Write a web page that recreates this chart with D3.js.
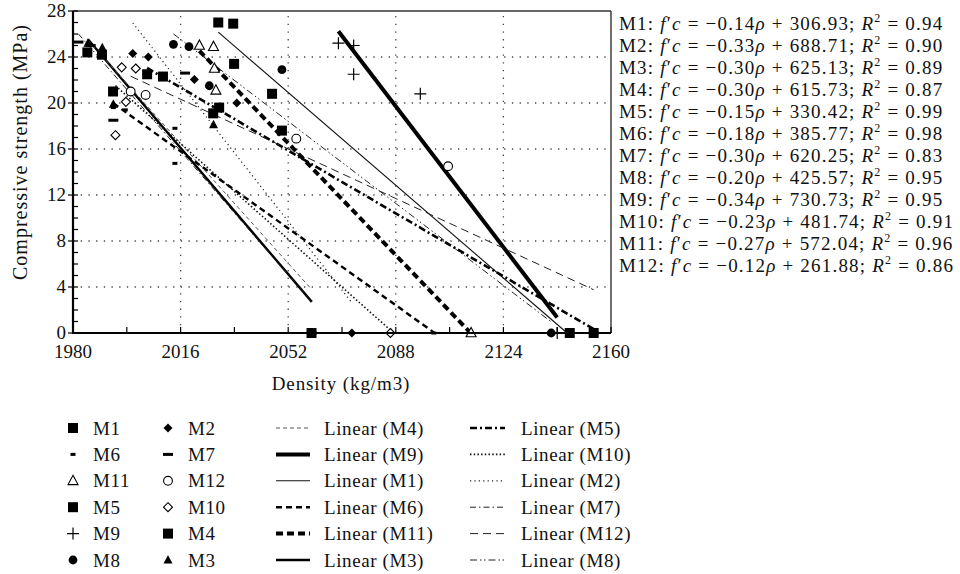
<!DOCTYPE html>
<html>
<head>
<meta charset="utf-8">
<script src="https://cdn.jsdelivr.net/npm/d3@7"></script>
<style>
  body { margin: 0; background: #fff; }
  text { font-family: "Liberation Serif", "DejaVu Serif", "Noto Serif", serif; fill: #111; }
</style>
</head>
<body>
<svg id="chart" width="960" height="574"></svg>
<script>
// ---- data: density (kg/m3), compressive strength (MPa) for each mix ----
const mixes = ["M1", "M2", "M3", "M4", "M5", "M6", "M7", "M8", "M9", "M10", "M11", "M12"];
const M1  = [[2028.6, 27.0], [2033.6, 26.9], [2033.9, 23.4], [2046.6, 20.8], [2146.2, 0]];
const M2  = [[2000.0, 24.3], [2005.2, 24.0], [2020.6, 22.05], [2034.8, 20.0], [2073.3, 0]];
const M3  = [[1985.0, 25.2], [1989.8, 24.8], [1993.5, 19.9], [2027.0, 18.1], [2059.9, 0]];
const M4  = [[1984.8, 24.4], [1989.7, 24.2], [1993.4, 21.0], [2028.9, 19.6], [2059.8, 0]];
const M5  = [[2004.8, 22.5], [2010.1, 22.3], [2026.9, 19.1], [2049.9, 17.6], [2154.2, 0]];
const M6  = [[1993.5, 19.6], [1997.5, 19.4], [2014.1, 17.8], [2014.1, 14.75], [2100.7, 0]];
const M7  = [[1981.8, 25.3], [1985.9, 25.0], [1993.5, 18.5], [2017.5, 22.6], [2059.9, 0]];
const M8  = [[2013.6, 25.1], [2018.8, 24.9], [2025.6, 21.5], [2049.9, 22.9], [2140.0, 0]];
const M9  = [[2068.8, 25.2], [2073.9, 25.0], [2073.9, 22.5], [2096.2, 20.8], [2142.0, 0]];
const M10 = [[1994.2, 17.2], [1996.3, 23.1], [1997.7, 20.1], [2001.0, 23.0], [2086.2, 0]];
const M11 = [[2022.3, 25.0], [2027.0, 24.9], [2027.3, 23.0], [2027.8, 21.1], [2113.2, 0]];
const M12 = [[1999.3, 21.0], [2004.3, 20.7], [2054.7, 16.9], [2105.5, 14.5], [2154.2, 0]];

// regression equations printed beside the plot
const eqSlope     = [-0.14, -0.33, -0.30, -0.30, -0.15, -0.18, -0.30, -0.20, -0.34, -0.23, -0.27, -0.12];
const eqIntercept = [306.93, 688.71, 625.13, 615.73, 330.42, 385.77, 620.25, 425.57, 730.73, 481.74, 572.04, 261.88];
const eqR2        = [0.94, 0.90, 0.89, 0.87, 0.99, 0.98, 0.83, 0.95, 0.95, 0.91, 0.96, 0.86];

const densityTicks  = [1980, 2016, 2052, 2088, 2124, 2160];
const strengthTicks = [0, 4, 8, 12, 16, 20, 24, 28];

// legend layout (columns of the key under the plot)
const markerCol1 = ["M1", "M6", "M11", "M5", "M9", "M8"];
const markerCol2 = ["M2", "M7", "M12", "M10", "M4", "M3"];
const lineCol1   = ["M4", "M9", "M1", "M6", "M11", "M3"];
const lineCol2   = ["M5", "M10", "M2", "M7", "M12", "M8"];

// ---- styling ----
const seriesPoints = {M1, M2, M3, M4, M5, M6, M7, M8, M9, M10, M11, M12};
const markerType = {
  M1: "square", M2: "diamondFill", M3: "triFill", M4: "square", M5: "square", M6: "dashShort",
  M7: "dashLong", M8: "circleFill", M9: "plus", M10: "diamondOpen", M11: "triOpen", M12: "circleOpen"
};
const lineStyle = {
  M1:  {w: 1.1, dash: null, color: "#111"},
  M2:  {w: 1.2, dash: "1.2,3.2", color: "#222"},
  M3:  {w: 2.4, dash: null, color: "#000"},
  M4:  {w: 1.0, dash: "4,3", color: "#555"},
  M5:  {w: 2.6, dash: "7,3,2,3", color: "#000"},
  M6:  {w: 2.4, dash: "6,4", color: "#000"},
  M7:  {w: 1.0, dash: "6,3,1.5,3", color: "#222"},
  M8:  {w: 1.0, dash: "7,3,1.5,2.5,1.5,3", color: "#222"},
  M9:  {w: 4.0, dash: null, color: "#000"},
  M10: {w: 1.6, dash: "1.5,2.2", color: "#111"},
  M11: {w: 4.0, dash: "7,4", color: "#000"},
  M12: {w: 1.0, dash: "8,5", color: "#222"}
};

const svg = d3.select("#chart");
svg.append("rect").attr("width", 960).attr("height", 574).attr("fill", "#fff");

const x = d3.scaleLinear().domain([1980, 2160]).range([73, 611]);
const y = d3.scaleLinear().domain([0, 28]).range([333, 11]);

// ---- grid ----
const grid = svg.append("g");
grid.selectAll("line.gy").data(strengthTicks.filter(v => v > 0 && v < 28)).join("line")
  .attr("x1", x(1980)).attr("x2", x(2160)).attr("y1", d => y(d)).attr("y2", d => y(d))
  .attr("stroke", "#444").attr("stroke-width", 1.3).attr("stroke-dasharray", "1.3,6.4");
grid.selectAll("line.gx").data(densityTicks.filter(v => v > 1980 && v < 2160)).join("line")
  .attr("y1", y(0)).attr("y2", y(28)).attr("x1", d => x(d)).attr("x2", d => x(d))
  .attr("stroke", "#444").attr("stroke-width", 1.3).attr("stroke-dasharray", "1.3,6.4");

// frame (top and right)
svg.append("line").attr("x1", x(1980)).attr("x2", x(2160)).attr("y1", y(28)).attr("y2", y(28))
  .attr("stroke", "#333").attr("stroke-width", 1.4);
svg.append("line").attr("x1", x(2160)).attr("x2", x(2160)).attr("y1", y(28)).attr("y2", y(0))
  .attr("stroke", "#333").attr("stroke-width", 1.4);

// ---- trend lines: least-squares fit of each mix over its density range ----
function fit(pts) {
  const mx = d3.mean(pts, p => p[0]), my = d3.mean(pts, p => p[1]);
  const sxy = d3.sum(pts, p => (p[0] - mx) * (p[1] - my));
  const sxx = d3.sum(pts, p => (p[0] - mx) ** 2);
  const b = sxy / sxx;
  const [x0, x1] = d3.extent(pts, p => p[0]);
  return [[x0, my + b * (x0 - mx)], [x1, my + b * (x1 - mx)]];
}
const line = d3.line().x(d => x(d[0])).y(d => y(d[1]));
const trends = svg.append("g").attr("fill", "none");
mixes.forEach(m => {
  const s = lineStyle[m];
  trends.append("path").attr("d", line(fit(seriesPoints[m])))
    .attr("stroke", s.color).attr("stroke-width", s.w)
    .attr("stroke-dasharray", s.dash);
});

// ---- markers ----
function drawMarker(g, type, cx, cy) {
  switch (type) {
    case "square":
      g.append("rect").attr("x", cx - 5).attr("y", cy - 5).attr("width", 10).attr("height", 10).attr("fill", "#000"); break;
    case "circleFill":
      g.append("circle").attr("cx", cx).attr("cy", cy).attr("r", 4.4).attr("fill", "#000"); break;
    case "circleOpen":
      g.append("circle").attr("cx", cx).attr("cy", cy).attr("r", 4.4).attr("fill", "#fff").attr("stroke", "#000").attr("stroke-width", 1.1); break;
    case "triFill":
      g.append("path").attr("d", `M${cx},${cy - 5} L${cx + 4.5},${cy + 3.5} L${cx - 4.5},${cy + 3.5}Z`).attr("fill", "#000"); break;
    case "triOpen":
      g.append("path").attr("d", `M${cx},${cy - 5.5} L${cx + 5},${cy + 3.8} L${cx - 5},${cy + 3.8}Z`).attr("fill", "#fff").attr("stroke", "#000").attr("stroke-width", 1.1); break;
    case "diamondFill":
      g.append("path").attr("d", `M${cx},${cy - 4.5} L${cx + 4.5},${cy} L${cx},${cy + 4.5} L${cx - 4.5},${cy}Z`).attr("fill", "#000"); break;
    case "diamondOpen":
      g.append("path").attr("d", `M${cx},${cy - 4.5} L${cx + 4.5},${cy} L${cx},${cy + 4.5} L${cx - 4.5},${cy}Z`).attr("fill", "#fff").attr("stroke", "#000").attr("stroke-width", 1.1); break;
    case "plus":
      g.append("path").attr("d", `M${cx - 6},${cy} H${cx + 6} M${cx},${cy - 6} V${cy + 6}`).attr("stroke", "#000").attr("stroke-width", 1.2).attr("fill", "none"); break;
    case "dashShort":
      g.append("rect").attr("x", cx - 2.5).attr("y", cy - 1.5).attr("width", 5).attr("height", 3).attr("fill", "#000"); break;
    case "dashLong":
      g.append("rect").attr("x", cx - 5).attr("y", cy - 1.5).attr("width", 10).attr("height", 3).attr("fill", "#000"); break;
  }
}
const marks = svg.append("g");
// filled squares go last so they sit on top of the other symbols
const drawOrder = mixes.filter(m => markerType[m] !== "square").concat(mixes.filter(m => markerType[m] === "square"));
drawOrder.forEach(m => {
  seriesPoints[m].forEach(p => drawMarker(marks, markerType[m], x(p[0]), y(p[1])));
});

// ---- axes ----
const axes = svg.append("g").attr("stroke", "#000");
axes.append("line").attr("x1", x(1980)).attr("x2", x(1980)).attr("y1", y(28)).attr("y2", y(0)).attr("stroke-width", 2.2);
axes.append("line").attr("x1", x(1980) - 1).attr("x2", x(2160)).attr("y1", y(0)).attr("y2", y(0)).attr("stroke-width", 2.2);
// y ticks: major every 4 crossing the axis, minor every 1 inside
d3.range(0, 28.01, 1).forEach(v => {
  const major = v % 4 === 0;
  axes.append("line").attr("x1", x(1980) - (major ? 5 : 0)).attr("x2", x(1980) + 5)
    .attr("y1", y(v)).attr("y2", y(v)).attr("stroke-width", 1.2);
});
// x ticks: every 18 kg/m3, pointing up
d3.range(1980, 2160.1, 18).forEach(v => {
  axes.append("line").attr("x1", x(v)).attr("x2", x(v)).attr("y1", y(0) - 6).attr("y2", y(0))
    .attr("stroke-width", 1.2);
});

const tickFont = 19;
svg.append("g").selectAll("text").data(strengthTicks).join("text")
  .attr("x", 66).attr("y", d => y(d) + 5.5).attr("text-anchor", "end")
  .attr("font-size", tickFont).text(d => d);
svg.append("g").selectAll("text").data(densityTicks).join("text")
  .attr("x", d => x(d)).attr("y", 357.5).attr("text-anchor", "middle")
  .attr("font-size", tickFont).text(d => d);

svg.append("text").attr("x", 341).attr("y", 390).attr("text-anchor", "middle")
  .attr("font-size", 19).attr("letter-spacing", 0.9).text("Density (kg/m3)");
svg.append("text").attr("transform", "translate(27,152) rotate(-90)").attr("text-anchor", "middle")
  .attr("font-size", 20).attr("letter-spacing", 1.0).text("Compressive strength (MPa)");

// ---- regression equations ----
const eqG = svg.append("g").attr("font-size", 19).attr("letter-spacing", 1.2);
mixes.forEach((m, i) => {
  const t = eqG.append("text").attr("x", 619).attr("y", 29.5 + i * 22.05);
  t.append("tspan").text(m + ": ");
  t.append("tspan").attr("font-style", "italic").text("f");
  t.append("tspan").text("\u2032");
  t.append("tspan").attr("font-style", "italic").text("c");
  t.append("tspan").text(" = \u2212" + Math.abs(eqSlope[i]).toFixed(2));
  t.append("tspan").attr("font-style", "italic").text("\u03c1");
  t.append("tspan").text(" + " + eqIntercept[i].toFixed(2) + "; ");
  t.append("tspan").attr("font-style", "italic").text("R");
  t.append("tspan").attr("font-size", 12).attr("dy", -8).text("2");
  t.append("tspan").attr("dy", 8).text(" = " + eqR2[i].toFixed(2));
});

// ---- legend ----
const legY = d3.range(6).map(i => 428 + i * 26.4);
const leg = svg.append("g").attr("font-size", 19).attr("letter-spacing", 0.6);
[[markerCol1, 73, 93], [markerCol2, 168, 188]].forEach(([col, sx, tx]) => {
  col.forEach((m, i) => {
    drawMarker(leg, markerType[m], sx, legY[i]);
    leg.append("text").attr("x", tx).attr("y", legY[i] + 6.5).text(m);
  });
});
[[lineCol1, 276, 310, 324], [lineCol2, 470, 505, 521]].forEach(([col, x0, x1, tx]) => {
  col.forEach((m, i) => {
    const s = lineStyle[m];
    leg.append("line").attr("x1", x0).attr("x2", x1).attr("y1", legY[i]).attr("y2", legY[i])
      .attr("stroke", s.color).attr("stroke-width", s.w).attr("stroke-dasharray", s.dash);
    leg.append("text").attr("x", tx).attr("y", legY[i] + 6.5).text("Linear (" + m + ")");
  });
});
</script>
</body>
</html>
